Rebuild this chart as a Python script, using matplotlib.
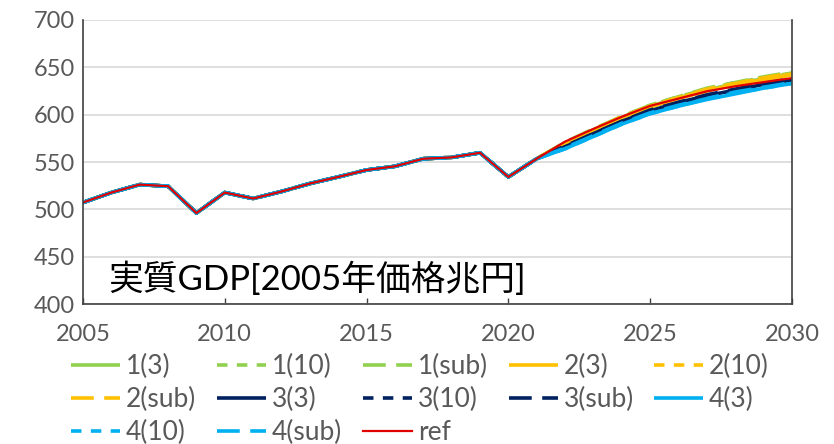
import matplotlib
matplotlib.use("Agg")
import matplotlib.pyplot as plt

plt.rcParams['font.family'] = ['Lato', 'Noto Sans CJK JP', 'DejaVu Sans']

years = list(range(2005, 2031))

# history shared by all series (2005-2021)
hist = [507.3, 517.8, 526.2, 524.5, 496.2, 517.8, 511.5, 518.9, 527.3, 534.3,
        541.6, 545.5, 553.5, 554.9, 559.8, 534.3, 553.5]

# projections 2022-2030
s1_3 = [570, 584, 597, 609, 618, 626, 633, 638, 643]
s1_10 = [570, 584, 598, 610, 619, 627, 634, 639, 644]
s1_sub = [571, 585, 598, 610, 619, 628, 634, 640, 645]
s2_3 = [569, 583, 597, 608, 617, 625, 632, 637, 642]
s2_10 = [570, 584, 597, 609, 618, 626, 633, 638, 643]
s2_sub = [570, 584, 598, 609, 618, 627, 633, 639, 644]
s3_3 = [566, 580, 593, 604, 613, 620, 626, 632, 637]
s3_10 = [566, 579, 592, 603, 612, 619, 625, 631, 636]
s3_sub = [567, 580, 593, 605, 613, 621, 627, 633, 638]
s4_3 = [564, 577, 590, 601, 609, 616, 622, 628, 633]
s4_10 = [564, 577, 590, 601, 609, 617, 623, 628, 633]
s4_sub = [565, 578, 591, 602, 610, 617, 624, 629, 634]
ref = [571.6, 585, 597.8, 609.3, 617, 624.7, 630, 634.4, 638.6]

names = ["1(3)", "1(10)", "1(sub)", "2(3)", "2(10)", "2(sub)",
         "3(3)", "3(10)", "3(sub)", "4(3)", "4(10)", "4(sub)"]
proj = [s1_3, s1_10, s1_sub, s2_3, s2_10, s2_sub,
        s3_3, s3_10, s3_sub, s4_3, s4_10, s4_sub]
colors = ['#92D050'] * 3 + ['#FFC000'] * 3 + ['#002060'] * 3 + ['#00B0F0'] * 3
styles = [None, (0, (2.9, 2.6)), (0, (6.3, 2.9))] * 4

fig = plt.figure(figsize=(8.34, 4.44), dpi=100)
ax = fig.add_axes([0.0995, 0.315, 0.85, 0.64])

handles = []
for name, vals, c, ls in zip(names, proj, colors, styles):
    y = hist + vals
    if ls is None:
        h, = ax.plot(years, y, color=c, lw=2.6, label=name, solid_capstyle='butt')
    else:
        h, = ax.plot(years, y, color=c, lw=2.6, linestyle=ls, label=name, dash_capstyle='butt')
    handles.append(h)
h, = ax.plot(years, hist + ref, color='#E00000', lw=1.6, label='ref')
handles.append(h)

ax.set_xlim(2005, 2030)
ax.set_ylim(400, 700)
ax.set_xticks(range(2005, 2031, 5))
ax.set_yticks(range(400, 701, 50))
ax.grid(axis='y', color='#D9D9D9', lw=1.2)
ax.set_axisbelow(True)
ax.tick_params(axis='y', length=0, labelsize=17, colors='#595959', pad=6)
ax.tick_params(axis='x', direction='in', length=4, width=1, color='#404040',
               labelsize=17, labelcolor='#595959', pad=14)
ax.spines['top'].set_visible(False)
for side in ['left', 'right', 'bottom']:
    ax.spines[side].set_color('#404040')
    ax.spines[side].set_linewidth(1.2)

ax.text(0.035, 0.05, "実質GDP[2005年価格兆円]", transform=ax.transAxes,
        fontsize=25, color='black', va='baseline', ha='left')

# legend: five fixed-width columns, filled row by row
ncols = 5
col_x = [0.0851, 0.2602, 0.4353, 0.6103, 0.7842]
for j in range(ncols):
    col = handles[j::ncols]
    leg = fig.legend(col, [h.get_label() for h in col],
                     loc='upper left', bbox_to_anchor=(col_x[j], 0.203),
                     frameon=False, fontsize=19, labelcolor='#595959',
                     handlelength=1.85, handletextpad=0.22,
                     labelspacing=0.3, borderaxespad=0, borderpad=0)

fig.savefig("out.png", dpi=100)
